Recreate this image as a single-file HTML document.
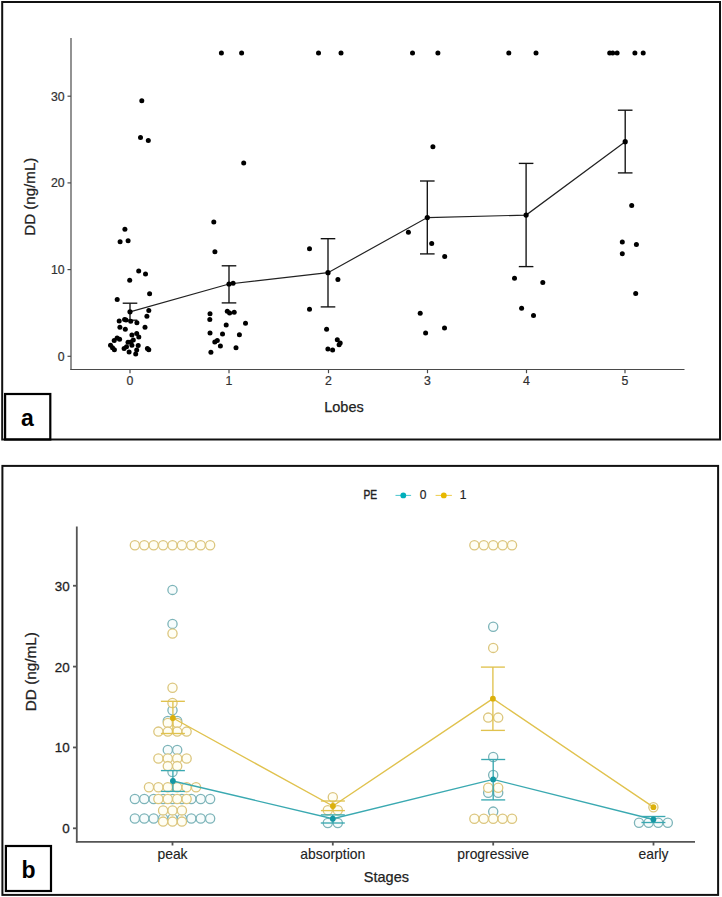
<!DOCTYPE html>
<html><head><meta charset="utf-8"><style>
html,body{margin:0;padding:0;background:#fff;}
body{width:722px;height:897px;overflow:hidden;}
svg{display:block;}
text{font-family:"Liberation Sans",sans-serif;}
.lab{font-size:23px;font-weight:bold;fill:#000;}
.tick{font-size:12.3px;stroke:#2a2a2a;stroke-width:0.2px;}
.tickb{font-size:13.4px;stroke:#1e1e1e;stroke-width:0.3px;}
.xlb{font-size:13.9px;stroke:#222;stroke-width:0.12px;}
.ttl{font-size:14.5px;fill:#222;stroke:#222;stroke-width:0.25px;}
.leg{font-size:12px;fill:#222;stroke:#222;stroke-width:0.2px;}
</style></head><body>
<svg width="722" height="897" viewBox="0 0 722 897">
<rect width="722" height="897" fill="#fff"/>
<rect x="2.2" y="2" width="717.8" height="437.5" fill="none" stroke="#111" stroke-width="2"/>
<rect x="5.1" y="394" width="45.2" height="45.5" fill="none" stroke="#000" stroke-width="2.2"/>
<text x="27.5" y="425.8" class="lab" text-anchor="middle">a</text>
<rect x="2.4" y="465.9" width="715.7" height="429" fill="none" stroke="#111" stroke-width="2"/>
<rect x="5.9" y="846" width="45.1" height="45" fill="none" stroke="#000" stroke-width="2.2"/>
<text x="28.5" y="878" class="lab" text-anchor="middle">b</text>
<g stroke="#4a4a4a" stroke-width="1.2" fill="none">
<line x1="71" y1="38" x2="71" y2="370"/>
<line x1="70.4" y1="369.5" x2="684.5" y2="369.5"/>
<line x1="67.5" y1="356.30" x2="71" y2="356.30"/>
<line x1="67.5" y1="269.60" x2="71" y2="269.60"/>
<line x1="67.5" y1="182.90" x2="71" y2="182.90"/>
<line x1="67.5" y1="96.20" x2="71" y2="96.20"/>
<line x1="130" y1="369.5" x2="130" y2="373.2"/>
<line x1="229" y1="369.5" x2="229" y2="373.2"/>
<line x1="328.5" y1="369.5" x2="328.5" y2="373.2"/>
<line x1="427.5" y1="369.5" x2="427.5" y2="373.2"/>
<line x1="526.5" y1="369.5" x2="526.5" y2="373.2"/>
<line x1="625" y1="369.5" x2="625" y2="373.2"/>
</g>
<g class="tick" fill="#333" text-anchor="end">
<text x="64.6" y="360.70">0</text>
<text x="64.6" y="274.00">10</text>
<text x="64.6" y="187.30">20</text>
<text x="64.6" y="100.60">30</text>
</g>
<g class="tick" fill="#333" text-anchor="middle">
<text x="130" y="384.5">0</text>
<text x="229" y="384.5">1</text>
<text x="328.5" y="384.5">2</text>
<text x="427.5" y="384.5">3</text>
<text x="526.5" y="384.5">4</text>
<text x="625" y="384.5">5</text>
</g>
<text x="344" y="411.8" class="ttl" text-anchor="middle">Lobes</text>
<text transform="translate(34.9,196.7) rotate(-90)" class="ttl" style="font-size:15.1px" text-anchor="middle">DD (ng/mL)</text>
<polyline points="130,311.8 229,284 328,272.7 427.3,217.6 526.1,215.1 625.2,141.7" fill="none" stroke="#222" stroke-width="1.2"/>
<g stroke="#111" stroke-width="1.35" fill="none">
<line x1="130" y1="303.2" x2="130" y2="320.2"/>
<line x1="122.7" y1="303.2" x2="137.3" y2="303.2"/>
<line x1="122.7" y1="320.2" x2="137.3" y2="320.2"/>
<line x1="229" y1="265.8" x2="229" y2="302.9"/>
<line x1="221.7" y1="265.8" x2="236.3" y2="265.8"/>
<line x1="221.7" y1="302.9" x2="236.3" y2="302.9"/>
<line x1="328" y1="238.7" x2="328" y2="306.9"/>
<line x1="320.7" y1="238.7" x2="335.3" y2="238.7"/>
<line x1="320.7" y1="306.9" x2="335.3" y2="306.9"/>
<line x1="427.3" y1="181" x2="427.3" y2="253.9"/>
<line x1="420.0" y1="181" x2="434.6" y2="181"/>
<line x1="420.0" y1="253.9" x2="434.6" y2="253.9"/>
<line x1="526.1" y1="163.4" x2="526.1" y2="266.6"/>
<line x1="518.8000000000001" y1="163.4" x2="533.4" y2="163.4"/>
<line x1="518.8000000000001" y1="266.6" x2="533.4" y2="266.6"/>
<line x1="625.2" y1="110.2" x2="625.2" y2="172.9"/>
<line x1="617.9000000000001" y1="110.2" x2="632.5" y2="110.2"/>
<line x1="617.9000000000001" y1="172.9" x2="632.5" y2="172.9"/>
</g>
<g fill="#000">
<circle cx="141.8" cy="100.8" r="2.5"/>
<circle cx="140.5" cy="137.4" r="2.5"/>
<circle cx="148.3" cy="140.5" r="2.5"/>
<circle cx="124.9" cy="229.2" r="2.5"/>
<circle cx="120.1" cy="241.8" r="2.5"/>
<circle cx="128.1" cy="240.7" r="2.5"/>
<circle cx="138.7" cy="271.0" r="2.5"/>
<circle cx="145.5" cy="274.1" r="2.5"/>
<circle cx="129.7" cy="280.3" r="2.5"/>
<circle cx="149.6" cy="293.8" r="2.5"/>
<circle cx="117.2" cy="299.4" r="2.5"/>
<circle cx="148.8" cy="310.6" r="2.5"/>
<circle cx="146.9" cy="316.2" r="2.5"/>
<circle cx="119.2" cy="321" r="2.5"/>
<circle cx="124.6" cy="319.4" r="2.5"/>
<circle cx="126" cy="320" r="2.5"/>
<circle cx="130.7" cy="321.3" r="2.5"/>
<circle cx="136.9" cy="322.7" r="2.5"/>
<circle cx="119.9" cy="327.3" r="2.5"/>
<circle cx="125.3" cy="329.2" r="2.5"/>
<circle cx="145" cy="327.3" r="2.5"/>
<circle cx="131.9" cy="335.1" r="2.5"/>
<circle cx="136.7" cy="333.4" r="2.5"/>
<circle cx="138.8" cy="337" r="2.5"/>
<circle cx="117.1" cy="337.9" r="2.5"/>
<circle cx="114.2" cy="340.4" r="2.5"/>
<circle cx="119.6" cy="339.2" r="2.5"/>
<circle cx="133.3" cy="340.1" r="2.5"/>
<circle cx="128" cy="342.3" r="2.5"/>
<circle cx="130.9" cy="341.9" r="2.5"/>
<circle cx="131.9" cy="345.3" r="2.5"/>
<circle cx="138.2" cy="345.5" r="2.5"/>
<circle cx="110.5" cy="345.3" r="2.5"/>
<circle cx="112.5" cy="347.7" r="2.5"/>
<circle cx="114.4" cy="349.8" r="2.5"/>
<circle cx="124.1" cy="348.6" r="2.5"/>
<circle cx="126.5" cy="346.7" r="2.5"/>
<circle cx="136.7" cy="350.1" r="2.5"/>
<circle cx="135.7" cy="354" r="2.5"/>
<circle cx="129.1" cy="352" r="2.5"/>
<circle cx="147.4" cy="348.6" r="2.5"/>
<circle cx="148.8" cy="349.8" r="2.5"/>
<circle cx="221.4" cy="53" r="2.5"/>
<circle cx="241.6" cy="53" r="2.5"/>
<circle cx="243.7" cy="162.9" r="2.5"/>
<circle cx="213.8" cy="222.1" r="2.5"/>
<circle cx="214.9" cy="251.8" r="2.5"/>
<circle cx="233.1" cy="283.3" r="2.5"/>
<circle cx="227.3" cy="311.3" r="2.5"/>
<circle cx="229.6" cy="313" r="2.5"/>
<circle cx="234.2" cy="312.2" r="2.5"/>
<circle cx="210" cy="313.8" r="2.5"/>
<circle cx="209.8" cy="319.6" r="2.5"/>
<circle cx="226.2" cy="325" r="2.5"/>
<circle cx="245.5" cy="323.3" r="2.5"/>
<circle cx="210" cy="333" r="2.5"/>
<circle cx="222.5" cy="334.1" r="2.5"/>
<circle cx="239.4" cy="334.7" r="2.5"/>
<circle cx="214.8" cy="341.9" r="2.5"/>
<circle cx="217.3" cy="340.5" r="2.5"/>
<circle cx="220.4" cy="346.1" r="2.5"/>
<circle cx="236" cy="347.7" r="2.5"/>
<circle cx="210.9" cy="352.2" r="2.5"/>
<circle cx="318.5" cy="52.9" r="2.5"/>
<circle cx="341" cy="52.9" r="2.5"/>
<circle cx="309.5" cy="248.8" r="2.5"/>
<circle cx="337.9" cy="279.6" r="2.5"/>
<circle cx="309.5" cy="309.2" r="2.5"/>
<circle cx="326.6" cy="329.2" r="2.5"/>
<circle cx="337.3" cy="339.8" r="2.5"/>
<circle cx="340.2" cy="342.9" r="2.5"/>
<circle cx="339.1" cy="344.8" r="2.5"/>
<circle cx="327.9" cy="349" r="2.5"/>
<circle cx="332.6" cy="349.9" r="2.5"/>
<circle cx="412.5" cy="52.9" r="2.5"/>
<circle cx="437.9" cy="52.9" r="2.5"/>
<circle cx="432.9" cy="146.7" r="2.5"/>
<circle cx="408.4" cy="232.3" r="2.5"/>
<circle cx="431.7" cy="243.4" r="2.5"/>
<circle cx="444.7" cy="256.4" r="2.5"/>
<circle cx="420.2" cy="313.3" r="2.5"/>
<circle cx="425.6" cy="332.9" r="2.5"/>
<circle cx="444.5" cy="328" r="2.5"/>
<circle cx="508.8" cy="52.9" r="2.5"/>
<circle cx="536" cy="52.9" r="2.5"/>
<circle cx="514.5" cy="278.2" r="2.5"/>
<circle cx="542.8" cy="282.6" r="2.5"/>
<circle cx="521.6" cy="308.2" r="2.5"/>
<circle cx="533.5" cy="315.4" r="2.5"/>
<circle cx="609.7" cy="52.9" r="2.5"/>
<circle cx="612.7" cy="52.9" r="2.5"/>
<circle cx="617.1" cy="52.9" r="2.5"/>
<circle cx="634.9" cy="52.9" r="2.5"/>
<circle cx="643.2" cy="52.9" r="2.5"/>
<circle cx="631.7" cy="205.4" r="2.5"/>
<circle cx="622.3" cy="242" r="2.5"/>
<circle cx="636.4" cy="244.4" r="2.5"/>
<circle cx="622.3" cy="253.8" r="2.5"/>
<circle cx="635.7" cy="293.4" r="2.5"/>
<circle cx="130" cy="311.8" r="2.6"/>
<circle cx="229" cy="284" r="2.6"/>
<circle cx="328" cy="272.7" r="2.6"/>
<circle cx="427.3" cy="217.6" r="2.6"/>
<circle cx="526.1" cy="215.1" r="2.6"/>
<circle cx="625.2" cy="141.7" r="2.6"/>
</g>
<g stroke="#555" stroke-width="1.8" fill="none">
<line x1="76.8" y1="526.6" x2="76.8" y2="842.5"/>
<line x1="75.9" y1="841.8" x2="695" y2="841.8"/>
<line x1="73" y1="828.30" x2="76.8" y2="828.30"/>
<line x1="73" y1="747.45" x2="76.8" y2="747.45"/>
<line x1="73" y1="666.60" x2="76.8" y2="666.60"/>
<line x1="73" y1="585.75" x2="76.8" y2="585.75"/>
<line x1="172.5" y1="841.8" x2="172.5" y2="845.5"/>
<line x1="332.8" y1="841.8" x2="332.8" y2="845.5"/>
<line x1="493.2" y1="841.8" x2="493.2" y2="845.5"/>
<line x1="653.5" y1="841.8" x2="653.5" y2="845.5"/>
</g>
<g class="tickb" fill="#1e1e1e" text-anchor="end">
<text x="69.7" y="833.20">0</text>
<text x="69.7" y="752.35">10</text>
<text x="69.7" y="671.50">20</text>
<text x="69.7" y="590.65">30</text>
</g>
<g class="xlb" fill="#222" text-anchor="middle">
<text x="172.5" y="858.6">peak</text>
<text x="332.8" y="858.6">absorption</text>
<text x="493.2" y="858.6">progressive</text>
<text x="653.5" y="858.6">early</text>
</g>
<text x="386.4" y="882" class="ttl" text-anchor="middle">Stages</text>
<text transform="translate(36.1,671.7) rotate(-90)" class="ttl" style="font-size:15.3px" text-anchor="middle">DD (ng/mL)</text>
<text x="363.4" y="499.2" class="leg" textLength="13.6" lengthAdjust="spacingAndGlyphs" style="stroke:#222;stroke-width:0.4px">PE</text>
<line x1="395.5" y1="495.4" x2="411.1" y2="495.4" stroke="#00AFBB" stroke-width="1" opacity="0.7"/>
<circle cx="403.3" cy="495.4" r="2.9" fill="#00AFBB"/>
<text x="423.1" y="499.2" class="leg" text-anchor="middle">0</text>
<line x1="435.6" y1="495.4" x2="451.9" y2="495.4" stroke="#E7B800" stroke-width="1" opacity="0.7"/>
<circle cx="443.8" cy="495.4" r="2.9" fill="#E7B800"/>
<text x="463" y="499.2" class="leg" text-anchor="middle">1</text>
<g fill="#F7FCFC" stroke="#7DB4B9" stroke-width="1.3">
<circle cx="172.50" cy="589.90" r="4.6"/>
<circle cx="172.50" cy="623.90" r="4.6"/>
<circle cx="172.50" cy="710.30" r="4.6"/>
<circle cx="167.80" cy="721.00" r="4.6"/>
<circle cx="177.20" cy="721.00" r="4.6"/>
<circle cx="167.80" cy="749.90" r="4.6"/>
<circle cx="177.20" cy="749.90" r="4.6"/>
<circle cx="172.50" cy="772.00" r="4.6"/>
<circle cx="134.86" cy="799.00" r="4.6"/>
<circle cx="144.27" cy="799.00" r="4.6"/>
<circle cx="153.68" cy="799.00" r="4.6"/>
<circle cx="163.09" cy="799.00" r="4.6"/>
<circle cx="172.50" cy="799.00" r="4.6"/>
<circle cx="181.91" cy="799.00" r="4.6"/>
<circle cx="191.32" cy="799.00" r="4.6"/>
<circle cx="200.73" cy="799.00" r="4.6"/>
<circle cx="210.14" cy="799.00" r="4.6"/>
<circle cx="134.86" cy="818.50" r="4.6"/>
<circle cx="144.27" cy="818.50" r="4.6"/>
<circle cx="153.68" cy="818.50" r="4.6"/>
<circle cx="163.09" cy="818.50" r="4.6"/>
<circle cx="172.50" cy="818.50" r="4.6"/>
<circle cx="181.91" cy="818.50" r="4.6"/>
<circle cx="191.32" cy="818.50" r="4.6"/>
<circle cx="200.73" cy="818.50" r="4.6"/>
<circle cx="210.14" cy="818.50" r="4.6"/>
<circle cx="327.80" cy="823.00" r="4.6"/>
<circle cx="337.80" cy="823.00" r="4.6"/>
<circle cx="493.20" cy="626.70" r="4.6"/>
<circle cx="493.20" cy="757.00" r="4.6"/>
<circle cx="493.20" cy="775.00" r="4.6"/>
<circle cx="488.20" cy="792.70" r="4.6"/>
<circle cx="498.20" cy="792.70" r="4.6"/>
<circle cx="493.20" cy="811.60" r="4.6"/>
<circle cx="639.00" cy="822.70" r="4.6"/>
<circle cx="648.60" cy="822.70" r="4.6"/>
<circle cx="658.20" cy="822.70" r="4.6"/>
<circle cx="667.80" cy="822.70" r="4.6"/>
</g>
<g fill="#FFFEF4" stroke="#DCC67E" stroke-width="1.3">
<circle cx="134.86" cy="545.20" r="4.6"/>
<circle cx="144.27" cy="545.20" r="4.6"/>
<circle cx="153.68" cy="545.20" r="4.6"/>
<circle cx="163.09" cy="545.20" r="4.6"/>
<circle cx="172.50" cy="545.20" r="4.6"/>
<circle cx="181.91" cy="545.20" r="4.6"/>
<circle cx="191.32" cy="545.20" r="4.6"/>
<circle cx="200.73" cy="545.20" r="4.6"/>
<circle cx="210.14" cy="545.20" r="4.6"/>
<circle cx="172.50" cy="633.50" r="4.6"/>
<circle cx="172.50" cy="687.70" r="4.6"/>
<circle cx="172.50" cy="703.00" r="4.6"/>
<circle cx="167.80" cy="723.00" r="4.6"/>
<circle cx="177.20" cy="723.00" r="4.6"/>
<circle cx="158.38" cy="731.60" r="4.6"/>
<circle cx="167.79" cy="731.60" r="4.6"/>
<circle cx="177.21" cy="731.60" r="4.6"/>
<circle cx="186.62" cy="731.60" r="4.6"/>
<circle cx="158.38" cy="758.50" r="4.6"/>
<circle cx="167.79" cy="758.50" r="4.6"/>
<circle cx="177.21" cy="758.50" r="4.6"/>
<circle cx="186.62" cy="758.50" r="4.6"/>
<circle cx="167.79" cy="766.10" r="4.6"/>
<circle cx="177.21" cy="766.10" r="4.6"/>
<circle cx="148.97" cy="787.20" r="4.6"/>
<circle cx="158.38" cy="787.20" r="4.6"/>
<circle cx="167.79" cy="787.20" r="4.6"/>
<circle cx="177.21" cy="787.20" r="4.6"/>
<circle cx="186.62" cy="787.20" r="4.6"/>
<circle cx="196.03" cy="787.20" r="4.6"/>
<circle cx="158.38" cy="799.00" r="4.6"/>
<circle cx="167.79" cy="799.00" r="4.6"/>
<circle cx="177.21" cy="799.00" r="4.6"/>
<circle cx="186.62" cy="799.00" r="4.6"/>
<circle cx="163.09" cy="810.40" r="4.6"/>
<circle cx="172.50" cy="810.40" r="4.6"/>
<circle cx="181.91" cy="810.40" r="4.6"/>
<circle cx="163.09" cy="821.60" r="4.6"/>
<circle cx="172.50" cy="821.60" r="4.6"/>
<circle cx="181.91" cy="821.60" r="4.6"/>
<circle cx="332.80" cy="797.20" r="4.6"/>
<circle cx="327.80" cy="810.30" r="4.6"/>
<circle cx="337.80" cy="810.30" r="4.6"/>
<circle cx="474.38" cy="545.20" r="4.6"/>
<circle cx="483.79" cy="545.20" r="4.6"/>
<circle cx="493.20" cy="545.20" r="4.6"/>
<circle cx="502.61" cy="545.20" r="4.6"/>
<circle cx="512.02" cy="545.20" r="4.6"/>
<circle cx="493.20" cy="647.90" r="4.6"/>
<circle cx="488.20" cy="717.60" r="4.6"/>
<circle cx="498.20" cy="717.60" r="4.6"/>
<circle cx="488.20" cy="787.70" r="4.6"/>
<circle cx="498.20" cy="787.70" r="4.6"/>
<circle cx="474.38" cy="818.80" r="4.6"/>
<circle cx="483.79" cy="818.80" r="4.6"/>
<circle cx="493.20" cy="818.80" r="4.6"/>
<circle cx="502.61" cy="818.80" r="4.6"/>
<circle cx="512.02" cy="818.80" r="4.6"/>
<circle cx="653.40" cy="807.30" r="4.6"/>
</g>
<polyline points="172.9,718 332.9,806 492.9,698.7 653.4,807.2" fill="none" stroke="#E0C24E" stroke-width="1.4"/>
<g stroke="#E0C24E" stroke-width="1.35">
<line x1="172.9" y1="701.3" x2="172.9" y2="733.5"/>
<line x1="160.9" y1="701.3" x2="184.9" y2="701.3"/>
<line x1="160.9" y1="733.5" x2="184.9" y2="733.5"/>
<line x1="332.9" y1="801" x2="332.9" y2="810.6"/>
<line x1="320.9" y1="801" x2="344.9" y2="801"/>
<line x1="320.9" y1="810.6" x2="344.9" y2="810.6"/>
<line x1="492.9" y1="667.1" x2="492.9" y2="730.4"/>
<line x1="480.9" y1="667.1" x2="504.9" y2="667.1"/>
<line x1="480.9" y1="730.4" x2="504.9" y2="730.4"/>
</g>
<g fill="#DBB00C">
<circle cx="172.9" cy="718" r="2.9"/>
<circle cx="332.9" cy="806" r="2.9"/>
<circle cx="492.9" cy="698.7" r="2.9"/>
<circle cx="653.4" cy="807.2" r="2.9"/>
</g>
<polyline points="172.9,781 332.8,818.7 493.2,779.4 653.4,819.5" fill="none" stroke="#3AA9B1" stroke-width="1.4"/>
<g stroke="#3AA9B1" stroke-width="1.35">
<line x1="172.9" y1="770.6" x2="172.9" y2="791.4"/>
<line x1="160.9" y1="770.6" x2="184.9" y2="770.6"/>
<line x1="160.9" y1="791.4" x2="184.9" y2="791.4"/>
<line x1="332.8" y1="814.9" x2="332.8" y2="823"/>
<line x1="320.8" y1="814.9" x2="344.8" y2="814.9"/>
<line x1="320.8" y1="823" x2="344.8" y2="823"/>
<line x1="493.2" y1="759.5" x2="493.2" y2="799.9"/>
<line x1="481.2" y1="759.5" x2="505.2" y2="759.5"/>
<line x1="481.2" y1="799.9" x2="505.2" y2="799.9"/>
<line x1="653.4" y1="816.5" x2="653.4" y2="822.5"/>
<line x1="641.4" y1="816.5" x2="665.4" y2="816.5"/>
<line x1="641.4" y1="822.5" x2="665.4" y2="822.5"/>
</g>
<g fill="#1597A3">
<circle cx="172.9" cy="781" r="2.9"/>
<circle cx="332.8" cy="818.7" r="2.9"/>
<circle cx="493.2" cy="779.4" r="2.9"/>
<circle cx="653.4" cy="819.5" r="2.9"/>
</g>
</svg>
</body></html>
